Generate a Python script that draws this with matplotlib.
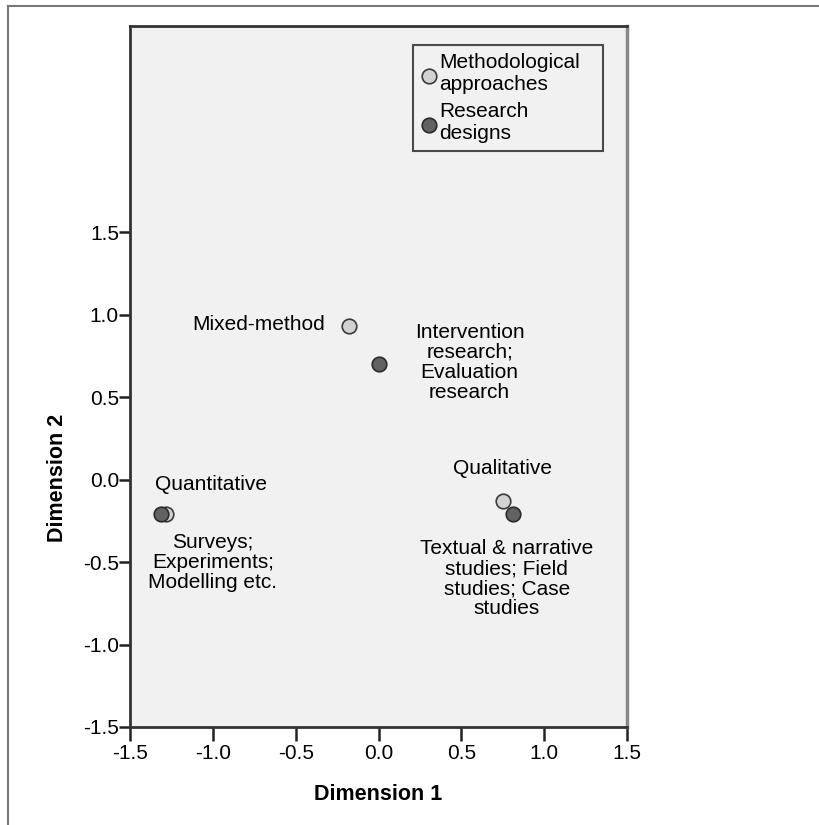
import matplotlib.pyplot as plt
from matplotlib.lines import Line2D

plt.rcParams['font.family'] = ['Liberation Sans', 'DejaVu Sans']

# row points (methodological approaches)
approach_labels = ["Mixed-method", "Quantitative", "Qualitative"]
approach_x = [-0.18, -1.28, 0.75]
approach_y = [0.93, -0.21, -0.13]

# column points (research designs)
design_labels = ["Intervention\nresearch;\nEvaluation\nresearch",
                 "Surveys;\nExperiments;\nModelling etc.",
                 "Textual & narrative\nstudies; Field\nstudies; Case\nstudies"]
design_x = [0.0, -1.31, 0.81]
design_y = [0.70, -0.21, -0.21]

ticks = [-1.5, -1.0, -0.5, 0.0, 0.5, 1.0, 1.5]

W, H = 819, 825
fig = plt.figure(figsize=(W / 100, H / 100), dpi=100)
ax = fig.add_axes([130 / W, 1 - 727 / H, 497 / W, 701 / H])
ax.set_facecolor("#f0f1f0")

ax.scatter(approach_x, approach_y, s=110, c="#d2d2d2", edgecolors="#3a3a3a",
           linewidths=1.2, zorder=3, label="Methodological\napproaches")
ax.scatter(design_x, design_y, s=110, c="#626262", edgecolors="#2a2a2a",
           linewidths=1.2, zorder=3, label="Research\ndesigns")

fs = 15
ls = 1.07
# labels for approaches
ax.text(approach_x[0] - 0.14, approach_y[0] + 0.01, approach_labels[0], ha="right", va="center", fontsize=fs)
ax.text(approach_x[1] + 0.27, approach_y[1] + 0.18, approach_labels[1], ha="center", va="center", fontsize=fs)
ax.text(approach_x[2] + 0.0, approach_y[2] + 0.2, approach_labels[2], ha="center", va="center", fontsize=fs)
# labels for designs
ax.text(design_x[0] + 0.55, design_y[0] + 0.01, design_labels[0], ha="center", va="center",
        fontsize=fs, linespacing=ls)
ax.text(design_x[1] + 0.31, design_y[1] - 0.29, design_labels[1], ha="center", va="center",
        fontsize=fs, linespacing=ls)
ax.text(design_x[2] - 0.035, design_y[2] - 0.39, design_labels[2], ha="center", va="center",
        fontsize=fs, linespacing=ls)

ax.set_xlim(-1.5, 1.5)
ax.set_ylim(-1.5, 2.75)
ax.set_xticks(ticks)
ax.set_yticks(ticks)
ax.set_xticklabels([f"{t:.1f}" for t in ticks], fontsize=fs)
ax.set_yticklabels([f"{t:.1f}" for t in ticks], fontsize=fs)
ax.tick_params(direction="out", width=1.8, color="#222222")
ax.tick_params(axis="x", length=10, pad=2.5)
ax.tick_params(axis="y", length=8, pad=0)

for side in ["left", "bottom", "top"]:
    ax.spines[side].set_color("#333333")
    ax.spines[side].set_linewidth(2)
ax.spines["right"].set_color("#888888")
ax.spines["right"].set_linewidth(2.5)

ax.set_xlabel("Dimension 1", fontsize=fs + 0.5, fontweight="bold")
ax.xaxis.set_label_coords(0.5, -(784 - 727) / 701)
ax.set_ylabel("Dimension 2", fontsize=fs + 0.5, fontweight="bold")
ax.yaxis.set_label_coords((68 - 130) / 497, (727 - 478) / 701)

# legend box spans x 413..603, y 45..150 (pixels)
lx0, lx1, ly0, ly1 = 413, 603, 45, 150
leg = ax.legend(loc="upper left", mode="expand",
                bbox_to_anchor=((lx0 - 130) / 497, (727 - ly1) / 701,
                                (lx1 - lx0) / 497, (ly1 - ly0) / 701),
                fontsize=fs, frameon=True, fancybox=False, handletextpad=0.15,
                borderpad=0.4, labelspacing=0.35, handlelength=0.7, borderaxespad=0,
                handleheight=0.6, facecolor="#f0f1f0")
leg.get_frame().set_edgecolor("#222222")
leg.get_frame().set_linewidth(1.5)
for t in leg.get_texts():
    t.set_linespacing(1.2)

# outer border (top and left lines of the output frame)
fig.add_artist(Line2D([8 / W, 8 / W], [0, 1 - 6 / H], color="#777777", lw=1.5))
fig.add_artist(Line2D([8 / W, 1], [1 - 6 / H, 1 - 6 / H], color="#777777", lw=1.5))

fig.savefig("out.png", dpi=100)
